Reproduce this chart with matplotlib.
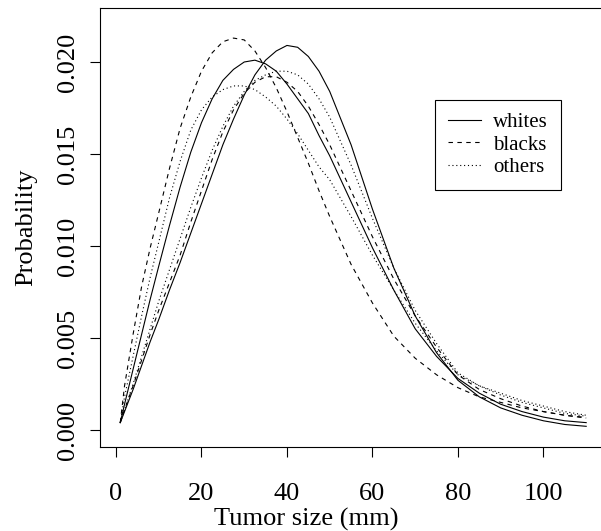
import matplotlib
matplotlib.use("Agg")
import matplotlib.pyplot as plt

# tumor size grid (mm)
size_mm = [1, 2, 4, 6, 8, 10, 12.5, 15, 17.5, 20, 22.5, 25, 27.5, 30, 32.5,
           35, 37.5, 40, 42.5, 45, 47.5, 50, 55, 60, 65, 70, 75, 80, 85, 90,
           95, 100, 105, 110]

# two fitted curves per group
whites_a = [0.0004, 0.0010, 0.0022, 0.0035, 0.0048, 0.0060, 0.0076, 0.0091,
            0.0107, 0.0123, 0.0139, 0.0155, 0.0169, 0.0182, 0.0193, 0.0201,
            0.0206, 0.0209, 0.0208, 0.0203, 0.0195, 0.0184, 0.0155, 0.0120,
            0.0088, 0.0062, 0.0042, 0.0027, 0.0018, 0.0012, 0.0008, 0.0005,
            0.0003, 0.0002]
whites_b = [0.0004, 0.0014, 0.0033, 0.0052, 0.0071, 0.0089, 0.0111, 0.0132,
            0.0151, 0.0167, 0.0180, 0.0190, 0.0196, 0.0200, 0.0201, 0.0199,
            0.0195, 0.0188, 0.0180, 0.0172, 0.0160, 0.0149, 0.0124, 0.0099,
            0.0076, 0.0055, 0.0040, 0.0028, 0.0020, 0.0014, 0.0010, 0.0007,
            0.0005, 0.0004]
blacks_a = [0.0004, 0.0024, 0.0052, 0.0078, 0.0099, 0.0118, 0.0142, 0.0164,
            0.0181, 0.0195, 0.0205, 0.0211, 0.0213, 0.0212, 0.0206, 0.0197,
            0.0186, 0.0173, 0.0159, 0.0145, 0.0130, 0.0116, 0.0090, 0.0069,
            0.0051, 0.0039, 0.0030, 0.0023, 0.0018, 0.0015, 0.0012, 0.0010,
            0.0008, 0.00068]
blacks_b = [0.0004, 0.0011, 0.0024, 0.0038, 0.0052, 0.0065, 0.0080, 0.0095,
            0.0113, 0.0130, 0.0147, 0.0162, 0.0174, 0.0183, 0.0189, 0.0192,
            0.0192, 0.0189, 0.0184, 0.0176, 0.0166, 0.0155, 0.0130, 0.0105,
            0.0082, 0.0062, 0.0045, 0.0030, 0.0022, 0.0017, 0.0013, 0.0010,
            0.0008, 0.00065]
others_a = [0.0004, 0.0011, 0.0025, 0.0040, 0.0055, 0.0070, 0.0087, 0.0104,
            0.0121, 0.0137, 0.0152, 0.0165, 0.0176, 0.0184, 0.0190, 0.0193,
            0.0195, 0.0195, 0.0193, 0.0188, 0.0180, 0.0170, 0.0144, 0.0115,
            0.0088, 0.0065, 0.0047, 0.0031, 0.0024, 0.0020, 0.0016, 0.0013,
            0.0010, 0.0008]
others_b = [0.0004, 0.0018, 0.0040, 0.0062, 0.0083, 0.0102, 0.0126, 0.0146,
            0.0163, 0.0174, 0.0181, 0.0185, 0.0187, 0.0187, 0.0185, 0.0181,
            0.0176, 0.0169, 0.0161, 0.0152, 0.0143, 0.0136, 0.0116, 0.0095,
            0.0076, 0.0058, 0.0043, 0.0030, 0.0024, 0.0019, 0.0015, 0.0012,
            0.0009, 0.00075]

x_ticks = [0, 20, 40, 60, 80, 100]
y_ticks = [0.000, 0.005, 0.010, 0.015, 0.020]

plt.rcParams['font.family'] = ['Liberation Serif', 'DejaVu Serif']

fig = plt.figure(figsize=(6.01, 5.31), dpi=100)
ax = fig.add_axes([100 / 601, 1 - 446.7 / 531, 505 / 601, 438.7 / 531])

lw = 0.8
dash = (0, (4, 4))
dots = (0, (1, 2.5))
ax.plot(size_mm, whites_a, color='black', lw=lw, ls='-', label='whites')
ax.plot(size_mm, whites_b, color='black', lw=lw, ls='-')
ax.plot(size_mm, blacks_a, color='black', lw=lw, ls=dash, label='blacks')
ax.plot(size_mm, blacks_b, color='black', lw=lw, ls=dash)
ax.plot(size_mm, others_a, color='black', lw=lw, ls=dots, label='others')
ax.plot(size_mm, others_b, color='black', lw=lw, ls=dots)

ax.set_xlim(-3.74, 114.4)
ax.set_ylim(-0.000908, 0.022935)
ax.set_xticks(x_ticks)
ax.set_yticks(y_ticks)
ax.set_xticklabels([str(t) for t in x_ticks])
ax.set_yticklabels([f'{t:.3f}' for t in y_ticks], rotation=90, va='center')
ax.tick_params(direction='out', length=7, width=0.8, labelsize=19, color='black')
ax.tick_params(axis='x', pad=19)
ax.tick_params(axis='y', pad=8)
ax.spines['right'].set_visible(False)
for s in ['left', 'bottom', 'top']:
    ax.spines[s].set_linewidth(0.8)

ax.set_xlabel('Tumor size (mm)', fontsize=19)
ax.set_ylabel('Probability', fontsize=19)
ax.xaxis.set_label_coords(0.408, -0.140)
ax.yaxis.set_label_coords(-0.125, 0.5)

leg = ax.legend(loc='upper left', bbox_to_anchor=(435 / 601, 1 - 100 / 531),
                bbox_transform=fig.transFigure, fontsize=15, frameon=True,
                fancybox=False, edgecolor='black', framealpha=1,
                handlelength=1.6, handletextpad=0.6, labelspacing=0.15,
                borderpad=0.6, borderaxespad=0)
leg.get_frame().set_linewidth(0.8)

fig.savefig('out.png', dpi=100)
